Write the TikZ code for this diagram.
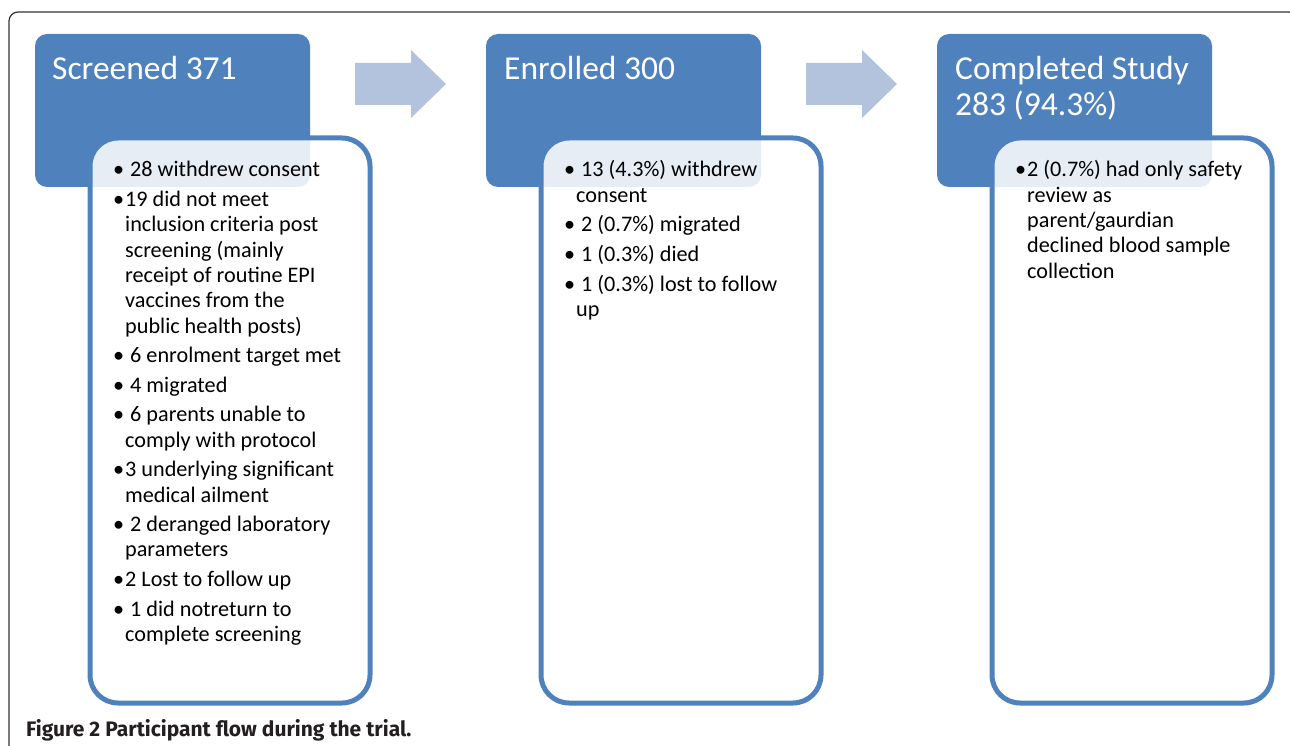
\documentclass[tikz,border=0pt]{standalone}
\usepackage{fontspec}
\setmainfont{Carlito}
\newfontfamily\capfont{Fira Sans}

\definecolor{hdrblue}{RGB}{79,129,189}
\definecolor{arrowblue}{RGB}{179,194,221}
\definecolor{framegray}{RGB}{50,50,50}
\definecolor{captext}{RGB}{35,31,32}

\tikzset{
	hdrbox/.style = {fill = hdrblue, rounded corners = 12pt},
	listbox/.style = {fill = white, fill opacity = 0.86, draw = hdrblue, draw opacity = 1, line width = 5pt, rounded corners = 28pt},
	hdrtext/.style = {anchor = base west, inner sep = 0pt, text = white, align = left, font = \fontsize{33.5}{36}\selectfont},
	listtext/.style = {anchor = base west, inner sep = 0pt, text width = 270pt, align = flush left, font = \fontsize{22.2}{25.3}\selectfont},
	flowarrow/.style = {fill = arrowblue}
}
\newcommand{\bul}{\hspace*{-12pt}\makebox[12pt][l]{\textbullet}}

\begin{document}
\begin{tikzpicture}[x = 1pt, y = -1pt]
	\useasboundingbox (0, 0) rectangle (1290, 746);
	
	% outer frame
	\begin{scope}
	\clip (0, 0) rectangle (1290, 746);
	\draw[framegray, line width = 1.2pt, rounded corners = 9pt] (9, 12) rectangle (1298, 770);
	\end{scope}
	
	% headers and list boxes
	\foreach \dx in {0, 451}
	\fill[flowarrow, xshift = \dx] (355, 63) -- (411, 63) -- (411, 50) -- (446, 84) -- (411, 118) -- (411, 105) -- (355, 105) -- cycle;
	
	\foreach \dx in {0, 451, 902}
	{
	\fill[hdrbox, xshift = \dx] (35, 34) rectangle (310, 187);
	\path[listbox, xshift = \dx] (90, 138) rectangle (370, 703);
	}
	
	\node[hdrtext] (scr) at (52, 80) {Screened 371};
	\node[hdrtext] (enr) at (504, 80) {Enrolled 300};
	\node[hdrtext] (cmp) at (955, 116) {Completed Study\\283 (94.3\%)};
	
	\node[listtext] (scrlist) at (113, 177) {\leftskip = 12pt
	\bul\ 28 withdrew consent\\[4.3pt]
	\bul 19 did not meet\\
	inclusion criteria post\\
	screening (mainly\\
	receipt of routine EPI\\
	vaccines from the\\
	public health posts)\\[4.3pt]
	\bul\ 6 enrolment target met\\[4.3pt]
	\bul\ 4 migrated\\[4.3pt]
	\bul\ 6 parents unable to\\
	comply with protocol\\[4.3pt]
	\bul 3 underlying significant\\
	medical ailment\\[4.3pt]
	\bul\ 2 deranged laboratory\\
	parameters\\[4.3pt]
	\bul 2 Lost to follow up\\[4.3pt]
	\bul\ 1 did notreturn to\\
	complete screening\par};
	
	\node[listtext] (enrlist) at (564, 177) {\leftskip = 12pt
	\bul\ 13 (4.3\%) withdrew\\
	consent\\[4.3pt]
	\bul\ 2 (0.7\%) migrated\\[4.3pt]
	\bul\ 1 (0.3\%) died\\[4.3pt]
	\bul\ 1 (0.3\%) lost to follow\\
	up\par};
	
	\node[listtext] (cmplist) at (1015, 177) {\leftskip = 12pt
	\bul 2 (0.7\%) had only safety\\
	review as\\
	parent/gaurdian\\
	declined blood sample\\
	collection\par};
	
	% caption
	\node[anchor = base west, inner sep = 0pt, text = captext, font = \capfont\bfseries\fontsize{21}{24}\selectfont] (cap) at (26, 736) {Figure 2 Participant flow during the trial.};
\end{tikzpicture}
\end{document}
